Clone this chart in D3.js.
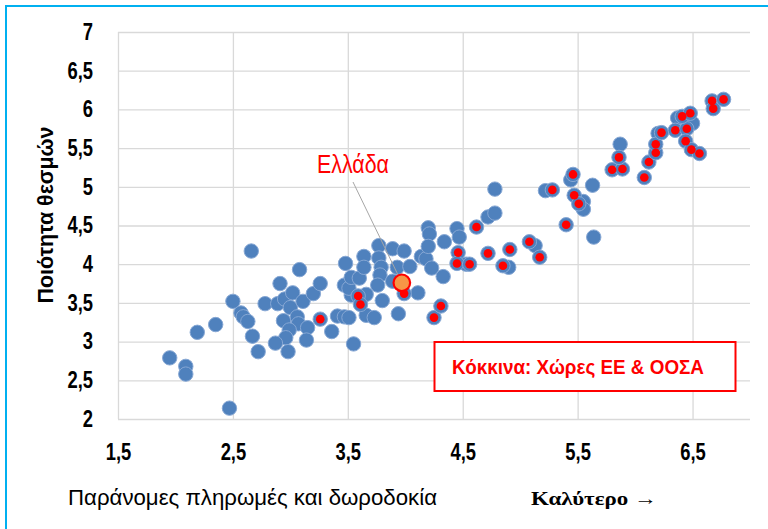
<!DOCTYPE html>
<html>
<head>
<meta charset="utf-8">
<script src="https://cdn.jsdelivr.net/npm/d3@7"></script>
<style>
  body { margin: 0; background: #fff; }
  svg { display: block; }
</style>
</head>
<body>
<svg id="CHART" width="768" height="529"></svg>
<script>
let d3 = window.d3;

// all other countries (blue)
const otherCountries = [
  [1.95, 2.79], [2.09, 2.68], [2.09, 2.58], [2.19, 3.12], [2.35, 3.22], [2.47, 2.14],
  [2.50, 3.52], [2.57, 3.37], [2.59, 3.32], [2.63, 3.26], [2.66, 4.17], [2.67, 3.07],
  [2.72, 2.87], [2.78, 3.49], [2.89, 3.49], [2.91, 3.75], [2.95, 3.55], [3.00, 3.44],
  [3.02, 3.63], [3.08, 3.93], [3.11, 3.52], [3.20, 3.62], [3.26, 3.75], [2.94, 3.27],
  [3.06, 3.32], [3.07, 3.23], [3.15, 3.18], [2.99, 3.15], [2.96, 3.05], [2.87, 2.98],
  [3.14, 3.02], [2.98, 2.87], [3.36, 3.13], [3.41, 3.33], [3.47, 3.32], [3.51, 3.31],
  [3.55, 2.97], [3.66, 3.34], [3.73, 3.31], [3.80, 3.53], [3.94, 3.36], [4.11, 3.63],
  [3.66, 3.61], [3.53, 3.60], [3.47, 3.73], [3.51, 3.69], [3.53, 3.83], [3.60, 3.82],
  [3.48, 4.01], [3.64, 4.10], [3.64, 3.96], [3.77, 4.24], [3.77, 4.08], [3.79, 3.96],
  [3.78, 3.86], [3.76, 3.73], [3.89, 4.20], [3.99, 4.17], [3.93, 3.96], [4.04, 3.97],
  [3.89, 3.78], [4.14, 4.10], [4.18, 4.07], [4.20, 4.47], [4.21, 4.39], [4.20, 4.23],
  [4.23, 3.95], [4.33, 3.84], [4.45, 4.46], [4.47, 4.35], [4.34, 4.29], [4.53, 4.00],
  [4.72, 4.61], [4.78, 4.66], [4.78, 4.97], [4.90, 3.96], [5.13, 4.24], [5.22, 4.95],
  [5.44, 5.09], [5.55, 4.81], [5.55, 4.71], [5.63, 5.02], [5.64, 4.35], [5.87, 5.55],
  [6.20, 5.69], [6.50, 5.82], [6.37, 5.89]
];

// EU & OECD countries (red)
const euOecd = [
  [3.26, 3.29], [3.99, 3.62], [3.59, 3.59], [3.61, 3.48], [4.25, 3.31], [4.31, 3.46],
  [4.46, 4.15], [4.45, 4.01], [4.56, 4.00], [4.62, 4.48], [4.72, 4.14], [4.91, 4.19],
  [4.85, 3.98], [5.08, 4.29], [5.17, 4.09], [5.28, 4.96], [5.40, 4.51], [5.46, 5.16],
  [5.47, 4.89], [5.51, 4.78], [5.80, 5.22], [5.89, 5.23], [5.86, 5.38], [6.08, 5.12],
  [6.12, 5.32], [6.18, 5.44], [6.18, 5.55], [6.23, 5.70], [6.35, 5.73], [6.45, 5.75],
  [6.41, 5.91], [6.48, 5.95], [6.44, 5.59], [6.49, 5.48], [6.56, 5.43], [6.67, 6.11],
  [6.68, 6.01], [6.77, 6.13]
];

const greece = [3.97, 3.76];

const xTicks = [1.5, 2.5, 3.5, 4.5, 5.5, 6.5];
const yTicks = [2, 2.5, 3, 3.5, 4, 4.5, 5, 5.5, 6, 6.5, 7];

const PLOT = { LEFT: 118, RIGHT: 750, TOP: 32, BOTTOM: 419 };
const SANS = "'Liberation Sans', Arial, sans-serif";
const SQUEEZE = 0.8; // fake a narrow font

let svg = d3.select("#CHART");

// outer frame (only top/left visible)
svg.append("rect")
  .attr("x", 6).attr("y", 6)
  .attr("width", 800).attr("height", 600)
  .attr("fill", "none")
  .attr("stroke", "#00b0f0")
  .attr("stroke-width", 2);

let xScale = d3.scaleLinear().domain([1.5, 7]).range([PLOT.LEFT, PLOT.RIGHT]);
let yScale = d3.scaleLinear().domain([2, 7]).range([PLOT.BOTTOM, PLOT.TOP]);

let fmt = (d) => String(d).replace(".", ",");

let xAxis = d3.axisBottom(xScale)
  .tickValues(xTicks)
  .tickFormat(fmt)
  .tickSize(-(PLOT.BOTTOM - PLOT.TOP))
  .tickPadding(25);

let yAxis = d3.axisLeft(yScale)
  .tickValues(yTicks)
  .tickFormat(fmt)
  .tickSize(-(PLOT.RIGHT - PLOT.LEFT))
  .tickPadding(25);

[[xAxis, "translate(0," + PLOT.BOTTOM + ")"], [yAxis, "translate(" + PLOT.LEFT + ",0)"]].forEach(([ax, tr]) => {
  let g = svg.append("g").attr("transform", tr).call(ax);
  g.select(".domain").remove();
  g.selectAll(".tick line").attr("stroke", "#d9d9d9").attr("stroke-width", 1.3);
  g.selectAll(".tick text")
    .attr("fill", "#000")
    .attr("x", function () { return (+this.getAttribute("x") || 0) / SQUEEZE; })
    .attr("transform", "scale(" + SQUEEZE + ",1)")
    .style("font-family", SANS)
    .style("font-weight", "bold")
    .style("font-size", "23px");
});

// points
let dots = svg.append("g");

dots.selectAll("circle.blue")
  .data(otherCountries.concat(euOecd))
  .enter()
  .append("circle")
  .attr("class", "blue")
  .attr("cx", (d) => xScale(d[0]))
  .attr("cy", (d) => yScale(d[1]))
  .attr("r", 7.2)
  .attr("fill", "#4f81bd")
  .attr("stroke", "#86a7d4")
  .attr("stroke-width", 1);

dots.selectAll("circle.red")
  .data(euOecd)
  .enter()
  .append("circle")
  .attr("class", "red")
  .attr("cx", (d) => xScale(d[0]))
  .attr("cy", (d) => yScale(d[1]))
  .attr("r", 4.3)
  .attr("fill", "#ff0000");

// Greece label + leader line
svg.append("line")
  .attr("x1", 353).attr("y1", 182)
  .attr("x2", xScale(greece[0])).attr("y2", yScale(greece[1]))
  .attr("stroke", "#a6a6a6")
  .attr("stroke-width", 1);

svg.append("circle")
  .attr("cx", xScale(greece[0]))
  .attr("cy", yScale(greece[1]))
  .attr("r", 8.3)
  .attr("fill", "#f79646")
  .attr("stroke", "#ff0000")
  .attr("stroke-width", 2.2);

svg.append("text")
  .attr("x", 317).attr("y", 173)
  .attr("fill", "#ff0000")
  .attr("textLength", 72)
  .attr("lengthAdjust", "spacingAndGlyphs")
  .style("font-family", SANS)
  .style("font-size", "25px")
  .text("Ελλάδα");

// legend box
svg.append("rect")
  .attr("x", 434.5).attr("y", 342)
  .attr("width", 301).attr("height", 49)
  .attr("fill", "#fff")
  .attr("stroke", "#ff0000")
  .attr("stroke-width", 2);

svg.append("text")
  .attr("x", 452).attr("y", 374)
  .attr("fill", "#ff0000")
  .attr("textLength", 252)
  .attr("lengthAdjust", "spacingAndGlyphs")
  .style("font-family", SANS)
  .style("font-weight", "bold")
  .style("font-size", "20px")
  .text("Κόκκινα: Χώρες ΕΕ & ΟΟΣΑ");

// axis titles
svg.append("text")
  .attr("transform", "translate(53,215) rotate(-90)")
  .attr("text-anchor", "middle")
  .attr("textLength", 177)
  .attr("lengthAdjust", "spacingAndGlyphs")
  .style("font-family", SANS)
  .style("font-weight", "bold")
  .style("font-size", "22px")
  .text("Ποιότητα θεσμών");

svg.append("text")
  .attr("x", 68).attr("y", 505)
  .attr("textLength", 369)
  .attr("lengthAdjust", "spacingAndGlyphs")
  .style("font-family", SANS)
  .style("font-size", "22px")
  .text("Παράνομες πληρωμές και δωροδοκία");

svg.append("text")
  .attr("x", 531).attr("y", 505)
  .attr("textLength", 126)
  .attr("lengthAdjust", "spacingAndGlyphs")
  .style("font-family", "'Liberation Serif', 'Times New Roman', serif")
  .style("font-weight", "bold")
  .style("font-size", "19px")
  .text("Καλύτερο →");
</script>
</body>
</html>
